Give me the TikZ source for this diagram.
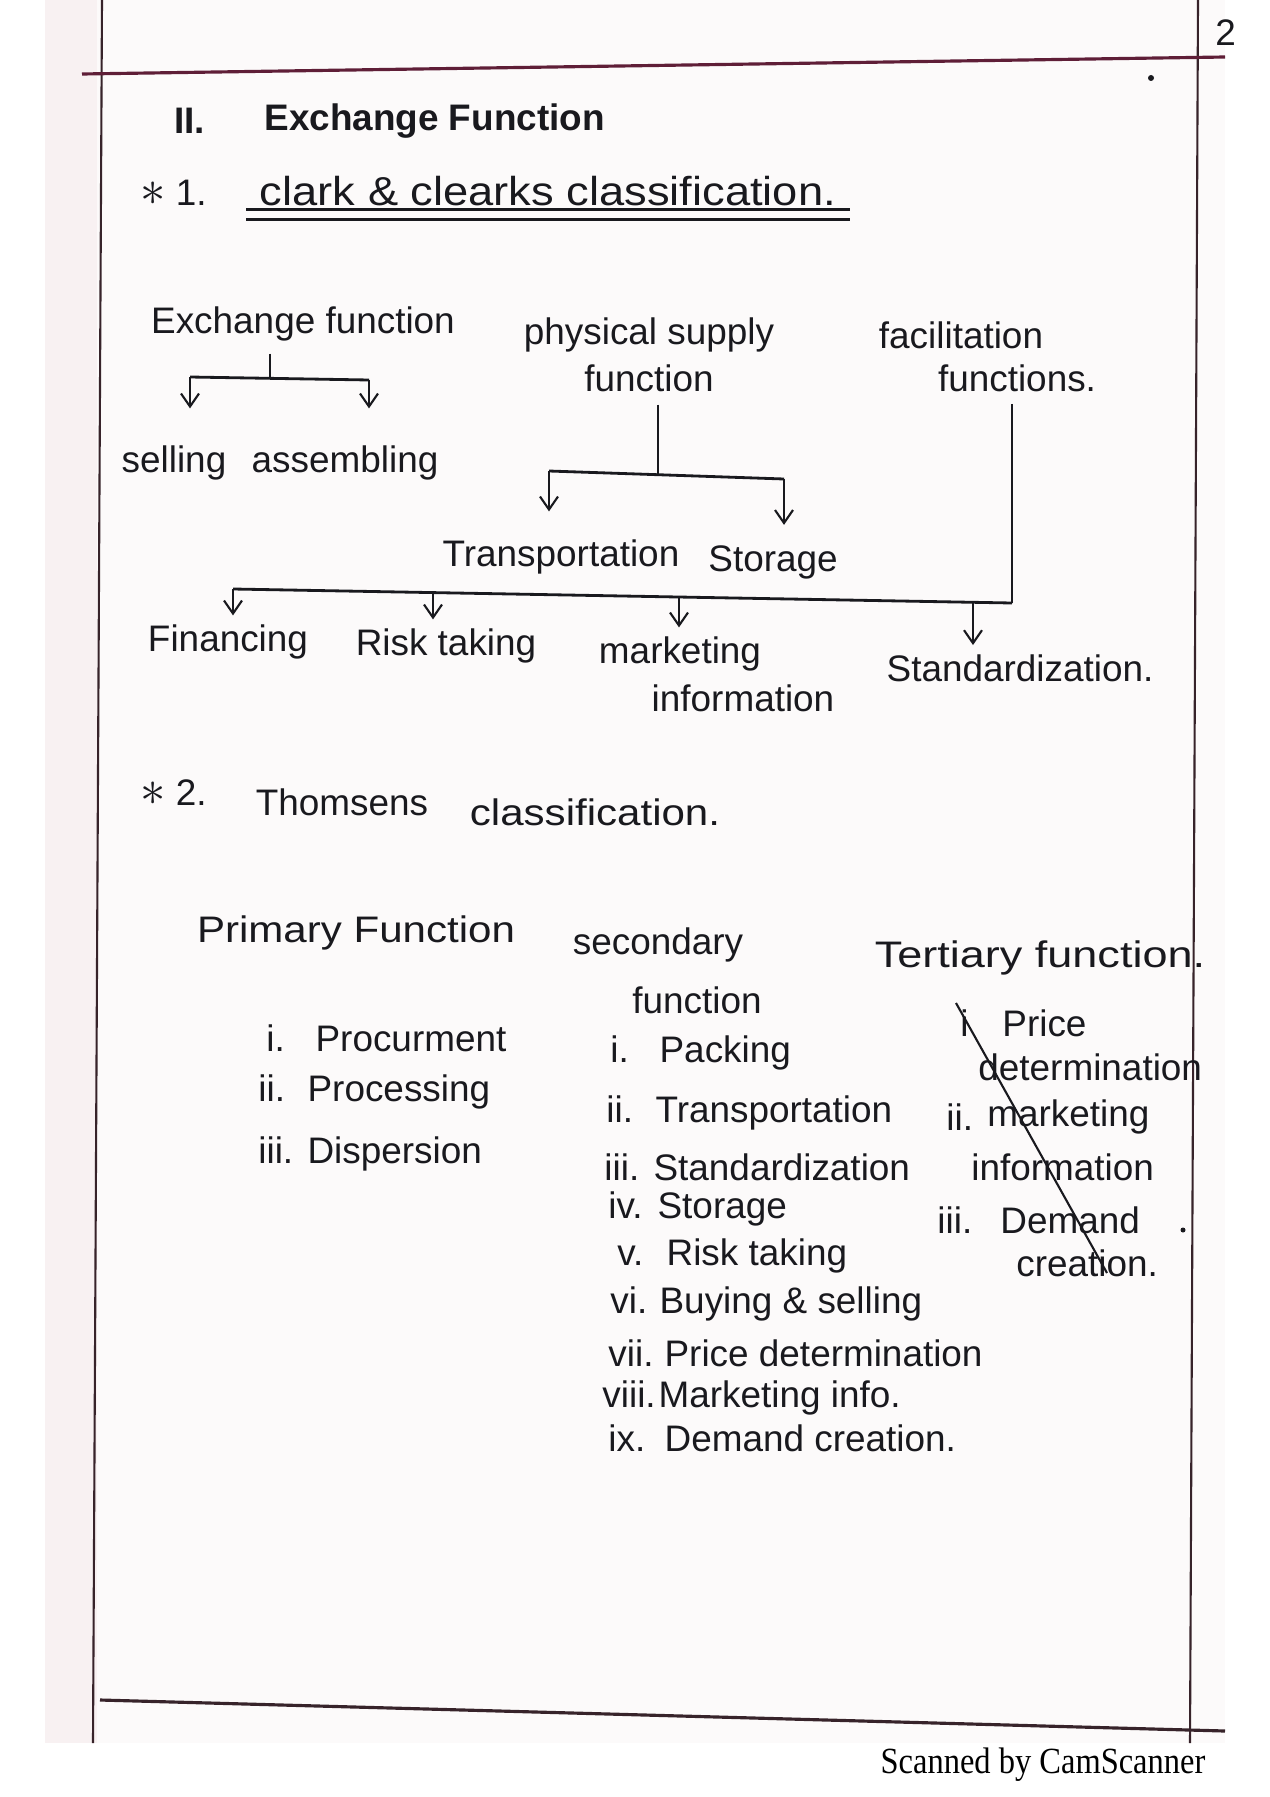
\documentclass[tikz,border=0pt]{standalone}
\usepackage{fontspec}
\setmainfont{Liberation Sans}
\newfontfamily\scanfont{Liberation Serif}
\usetikzlibrary{arrows.meta,positioning,calc}
\definecolor{ink}{RGB}{25,25,30}
\definecolor{rulecol}{RGB}{55,35,42}
\definecolor{topcol}{RGB}{95,30,55}
\definecolor{paper}{RGB}{252,250,250}
\definecolor{paperedge}{RGB}{248,241,242}
\newcommand{\itm}[3][14pt]{\makebox[#1][l]{#2}#3}

\begin{document}
\begin{tikzpicture}[x=0.1mm,y=-0.1mm,
  hand/.style={font=\fontsize{10.5}{13.4}\selectfont,text=ink},
  wide/.style={xscale=1.14},
  item/.style={hand,anchor=west},
  tree/.style={ink,line width=0.8pt},
  arr/.style={ink,line width=0.6pt,-{Straight Barb[length=1.3mm,width=1.8mm]}},
  pageline/.style={rulecol,line width=0.6pt}]
  \useasboundingbox (0,0) rectangle (1270,1797);
  % sheet and its ruled margins
  \fill[paper] (45,0) rectangle (1225,1743);
  \fill[paperedge] (45,0) rectangle (97,1743);
  \draw[pageline] (102,0) -- (93,1743);
  \draw[pageline] (1198,0) -- (1190,1743);
  \draw[topcol,line width=0.9pt] (82,74) -- (1225,57);
  \draw[pageline,line width=0.9pt] (100,1700) -- (1225,1731);
  \node[hand,anchor=west] (pageno) at (1203,33) {2};
  \fill[ink] (1151,78) circle[radius=0.3mm];
  \fill[ink] (1183,1230) circle[radius=0.25mm];

  % heading
  \node[hand,anchor=west] (secno) at (162,121) {\bfseries II.};
  \node[hand,anchor=west] (secttl) at (252,121) {\bfseries Exchange Function};
  \node[hand,anchor=west] (c1num) at (128,193) {{\Large$\ast$} 1.};
  \node[hand,anchor=west,font=\fontsize{11.5}{14}\selectfont,xscale=1.12] (c1ttl) at (246,191) {clark \& clearks classification.};
  \draw[tree] ([yshift=0.9mm]c1ttl.south west) -- ([yshift=0.9mm]c1ttl.south east);
  \draw[tree] ([yshift=-0.1mm]c1ttl.south west) -- ([yshift=-0.1mm]c1ttl.south east);

  % Clark & Clark tree
  \node[hand] (exch) at (303,324) {Exchange function};
  \node[hand,align=center] (phys) at (649,355) {physical supply\\function};
  \node[hand] (facil) at (961,335) {facilitation};
  \node[hand] (facil2) at (1017,378) {functions.};

  \node[hand] (sell) at (174,463) {selling};
  \node[hand] (assem) at (345,463) {assembling};
  \node[hand] (transp) at (561,557) {Transportation};
  \node[hand] (stor) at (773,562) {Storage};
  \node[hand] (finan) at (228,642) {Financing};
  \node[hand] (risk) at (446,646) {Risk taking};
  \node[hand] (mkt) at (680,654) {marketing};
  \node[hand] (mkt2) at (743,698) {information};
  \node[hand] (stand) at (1020,668) {Standardization.};

  \coordinate (exJ) at (270,378);
  \coordinate (exL) at (190,377);
  \coordinate (exR) at (369,380);
  \draw[tree] (exch.south -| exJ) -- (exJ);
  \draw[tree] (exL) -- (exR);
  \draw[arr,shorten >=2.5mm] (exL) -- (exL |- sell.north);
  \draw[arr,shorten >=2.5mm] (exR) -- (exR |- assem.north);

  \coordinate (phJ) at (658,474);
  \coordinate (phL) at (549,471);
  \coordinate (phR) at (784,479);
  \draw[tree] (phys.south -| phJ) -- (phJ);
  \draw[tree] (phL) -- (phR);
  \draw[arr,shorten >=1.6mm] (phL) -- (phL |- transp.north);
  \draw[arr,shorten >=0.8mm] (phR) -- (phR |- stor.north);

  \coordinate (faJ) at (1012,603);
  \coordinate (faL) at (233,589);
  \coordinate (fa1) at (433,593);
  \coordinate (fa2) at (679,597);
  \coordinate (fa3) at (973,602);
  \draw[tree] (facil2.south -| faJ) -- (faJ);
  \draw[tree] (faL) -- (faJ);
  \draw[arr,shorten >=-0.3mm] (faL) -- (faL |- finan.north);
  \draw[arr,shorten >=-0.3mm] (fa1) -- (fa1 |- risk.north);
  \draw[arr,shorten >=-0.3mm] (fa2) -- (fa2 |- mkt.north);
  \draw[arr,shorten >=-0.3mm] (fa3) -- (fa3 |- stand.north);

  % Thomsen
  \node[hand,anchor=west] (c2num) at (128,793) {{\Large$\ast$} 2.};
  \node[hand] (c2a) at (342,802) {Thomsens};
  \node[hand,wide] (c2b) at (595,812) {classification.};

  \node[hand,wide] (prim) at (356,933) {Primary Function};
  \node[hand] (second) at (658,945) {secondary};
  \node[hand] (second2) at (697,1000) {function};
  \node[hand,xscale=1.22] (tert) at (1040,958) {Tertiary function.};

  \node[item] (p1) at (254,1038) {\itm{i.}{Procurment}};
  \node[item] (p2) at (246,1092) {\itm{ii.}{Processing}};
  \node[item] (p3) at (246,1154) {\itm{iii.}{Dispersion}};

  \node[item] (s1) at (598,1053) {\itm{i.}{Packing}};
  \node[item] (s2) at (594,1113) {\itm{ii.}{Transportation}};
  \node[item] (s3) at (592,1167) {\itm{iii.}{Standardization}};
  \node[item] (s4) at (596,1209) {\itm{iv.}{Storage}};
  \node[item] (s5) at (605,1256) {\itm{v.}{Risk taking}};
  \node[item] (s6) at (598,1304) {\itm{vi.}{Buying \& selling}};
  \node[item] (s7) at (596,1353) {\itm[16pt]{vii.}{Price determination}};
  \node[item] (s8) at (590,1398) {\itm[16pt]{viii.}{Marketing info.}};
  \node[item] (s9) at (596,1438) {\itm[16pt]{ix.}{Demand creation.}};

  \node[item] (t1n) at (948,1023) {i};
  \node[item] (t1) at (990,1023) {Price};
  \node[item] (t1b) at (966,1067) {determination};
  \node[item] (t2n) at (934,1117) {ii.};
  \node[item] (t2) at (975,1117) {marketing};
  \node[item] (t2b) at (959,1167) {information};
  \node[item] (t3n) at (925,1220) {iii.};
  \node[item] (t3) at (988,1220) {Demand};
  \node[item] (t3b) at (1004,1263) {creation.};
  \coordinate (slashTop) at (956,1003);
  \coordinate (slashEnd) at (1107,1273);
  \draw[ink,line width=0.6pt] (slashTop) -- (slashEnd);

  \node[font=\scanfont\fontsize{10.5}{12}\selectfont,xscale=0.88] (scan) at (1043,1765) {Scanned by CamScanner};
\end{tikzpicture}
\end{document}
